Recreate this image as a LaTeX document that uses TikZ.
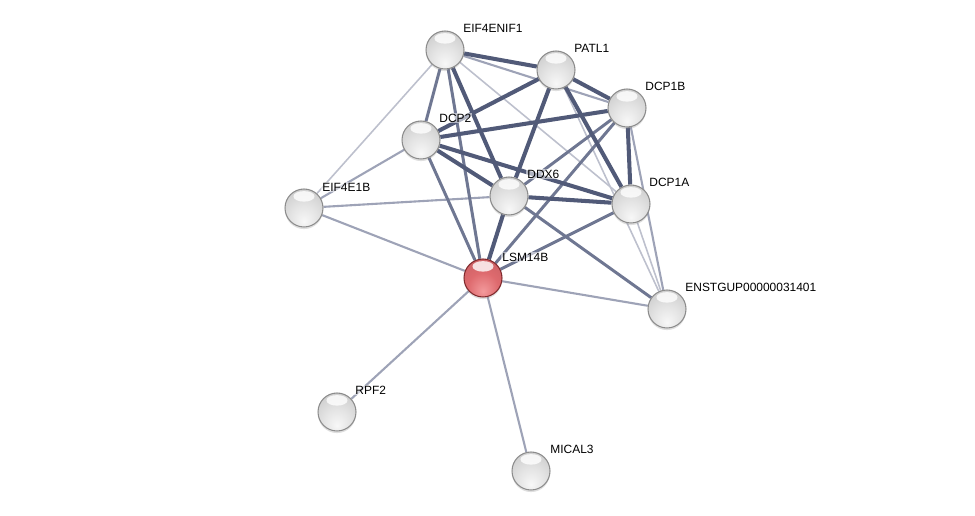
\documentclass[tikz,border=0pt]{standalone}
\usepackage{fontspec}
\setmainfont{Liberation Sans}
\usetikzlibrary{backgrounds, shadows}

\definecolor{edgedark}{HTML}{515A78}
\definecolor{edgemid}{HTML}{6F7792}
\definecolor{edgelight}{HTML}{9EA3B7}
\definecolor{edgefaint}{HTML}{BDC0CD}
\definecolor{redlight}{HTML}{F39A9C}
\definecolor{redbody}{HTML}{DE6A6E}
\definecolor{redrim}{HTML}{A03438}

\pgfdeclareradialshading{greysphere}{\pgfpoint{0bp}{-18bp}}{color(0bp)=(gray!6); color(18bp)=(gray!22); color(36bp)=(gray!40); color(52bp)=(gray!52); color(62bp)=(gray!62); color(70bp)=(gray!80)}
\pgfdeclareradialshading{redsphere}{\pgfpoint{0bp}{-18bp}}{color(0bp)=(redlight); color(20bp)=(redbody); color(40bp)=(redbody!90!black); color(56bp)=(redbody!80!black); color(64bp)=(redrim); color(70bp)=(redrim!80!black)}

\tikzset{
	protein/.style={circle, inner sep=0pt, minimum size=0.76cm, draw=gray!90, line width=0.6pt, shading=greysphere,
		drop shadow={opacity=0.25, shadow xshift=0pt, shadow yshift=-1.2pt},
		path picture={\fill[white, opacity=0.8] ([yshift=-4.2pt]path picture bounding box.north) ellipse (6pt and 3pt);}},
	seed/.style={protein, draw=redrim!80!black, shading=redsphere},
	lbl/.style={anchor=west, inner sep=0.6pt, fill=white, fill opacity=0.55, text opacity=1, font=\fontsize{6.8}{8}\selectfont},
	strong/.style={draw=edgedark, line width=2.3pt},
	medium/.style={draw=edgemid, line width=1.7pt},
	weak/.style={draw=edgelight, line width=1.2pt},
	faint/.style={draw=edgefaint, line width=0.9pt}
}

\begin{document}
\begin{tikzpicture}[x=0.02cm, y=-0.02cm]
			\useasboundingbox (0,0) rectangle (975,516);

			% Proteins
			\node[protein] (eif4enif1) at (445,50) {};
			\node[protein] (patl1) at (556,70) {};
			\node[protein] (dcp1b) at (627,108) {};
			\node[protein] (dcp2) at (421,140) {};
			\node[protein] (ddx6) at (509,196) {};
			\node[protein] (dcp1a) at (631,204) {};
			\node[protein] (eif4e1b) at (304,208) {};
			\node[seed] (lsm14b) at (483,278) {};
			\node[protein] (enstgup) at (667,309) {};
			\node[protein] (rpf2) at (337,412) {};
			\node[protein] (mical3) at (531,471) {};

			% Labels
			\node[lbl] at ([shift={(17,-22)}]eif4enif1.center) {EIF4ENIF1};
			\node[lbl] at ([shift={(17,-22)}]patl1.center) {PATL1};
			\node[lbl] at ([shift={(17,-22)}]dcp1b.center) {DCP1B};
			\node[lbl] at ([shift={(17,-22)}]dcp2.center) {DCP2};
			\node[lbl] at ([shift={(17,-22)}]ddx6.center) {DDX6};
			\node[lbl] at ([shift={(17,-22)}]dcp1a.center) {DCP1A};
			\node[lbl] at ([shift={(17,-21)}]eif4e1b.center) {EIF4E1B};
			\node[lbl] at ([shift={(18,-21)}]lsm14b.center) {LSM14B};
			\node[lbl] at ([shift={(17,-22)}]enstgup.center) {ENSTGUP00000031401};
			\node[lbl] at ([shift={(17,-22)}]rpf2.center) {RPF2};
			\node[lbl] at ([shift={(18,-22)}]mical3.center) {MICAL3};

			\begin{scope}[on background layer]
				% Faint edges
				\draw[faint] (eif4enif1) -- (eif4e1b);
				\draw[faint] (eif4enif1) -- (dcp1a);
				\draw[faint] (patl1) -- (enstgup);
				\draw[faint] (dcp1a) -- (enstgup);

				% Weak edges
				\draw[weak] (eif4enif1) -- (dcp1b);
				\draw[weak] (dcp2) -- (eif4e1b);
				\draw[weak] (eif4e1b) -- (ddx6);
				\draw[weak] (eif4e1b) -- (lsm14b);
				\draw[weak] (lsm14b) -- (enstgup);
				\draw[weak] (lsm14b) -- (rpf2);
				\draw[weak] (lsm14b) -- (mical3);
				\draw[weak] (dcp1b) -- (enstgup);

				% Medium edges
				\draw[medium] (eif4enif1) -- (dcp2);
				\draw[medium] (eif4enif1) -- (lsm14b);
				\draw[medium] (dcp2) -- (lsm14b);
				\draw[medium] (ddx6) -- (enstgup);
				\draw[medium] (lsm14b) -- (dcp1a);
				\draw[medium] (lsm14b) -- (dcp1b);
				\draw[medium] (ddx6) -- (dcp1b);

				% Strong edges
				\draw[strong] (eif4enif1) -- (patl1);
				\draw[strong] (eif4enif1) -- (ddx6);
				\draw[strong] (patl1) -- (dcp1b);
				\draw[strong] (patl1) -- (dcp1a);
				\draw[strong] (patl1) -- (ddx6);
				\draw[strong] (patl1) -- (dcp2);
				\draw[strong] (dcp2) -- (dcp1b);
				\draw[strong] (dcp2) -- (ddx6);
				\draw[strong] (dcp2) -- (dcp1a);
				\draw[strong] (dcp1b) -- (dcp1a);
				\draw[strong] (ddx6) -- (dcp1a);
				\draw[strong] (ddx6) -- (lsm14b);
			\end{scope}
		\end{tikzpicture}
\end{document}
